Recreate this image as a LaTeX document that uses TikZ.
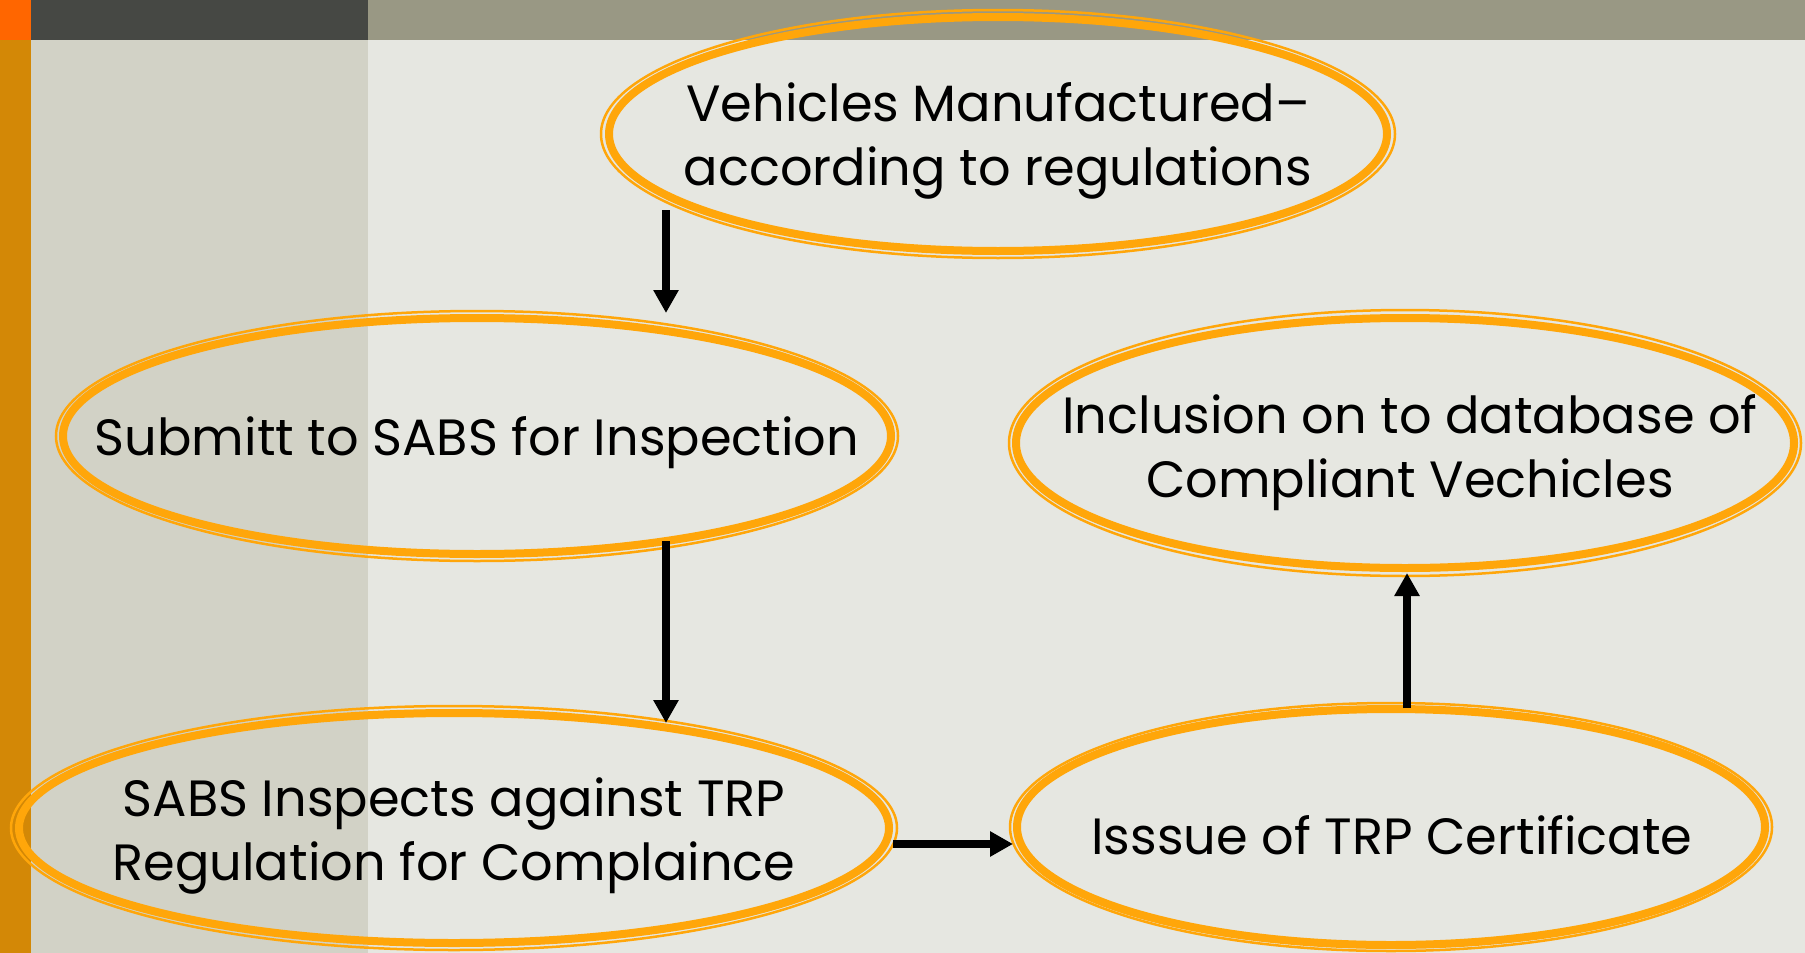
\documentclass[tikz,border=0pt]{standalone}
\usepackage{fontspec}
\setmainfont{Poppins}
\usetikzlibrary{shapes.geometric,arrows.meta,calc}
\definecolor{bgmain}{HTML}{E6E7E1}
\definecolor{panel}{HTML}{D2D2C6}
\definecolor{stripe}{HTML}{D38806}
\definecolor{corner}{HTML}{FF6600}
\definecolor{darkbar}{HTML}{464844}
\definecolor{olivebar}{HTML}{999884}
\definecolor{ringorange}{HTML}{FFA60A}
\begin{document}
\begin{tikzpicture}[x=1pt,y=-1pt,
  ring/.style={draw=ringorange, line width=8pt, ellipse, inner sep=0pt},
  halo/.style={draw=ringorange, line width=2.5pt},
  lbl/.style={align=center, font=\fontsize{51}{64}\selectfont, text=black, inner sep=0pt},
  arr/.style={line width=8.5pt, -{Triangle[length=23pt,width=24pt]}}
]
\useasboundingbox (0,0) rectangle (1805,953);
% slide background
\fill[bgmain] (0,0) rectangle (1805,953);
\fill[panel] (31,40) rectangle (368,953);
\fill[stripe] (0,40) rectangle (31,953);
\fill[corner] (0,0) rectangle (31,40);
\fill[darkbar] (31,0) rectangle (368,40);
\fill[olivebar] (368,0) rectangle (1805,40);

% process ellipses
\node[ring, minimum width=778pt, minimum height=234pt] (e1) at (998,134) {};
\node[ring, minimum width=828pt, minimum height=236pt] (e2) at (477,436) {};
\node[ring, minimum width=870pt, minimum height=230pt] (e3) at (454,828) {};
\node[ring, minimum width=748pt, minimum height=236pt] (e4) at (1391,827) {};
\node[ring, minimum width=778pt, minimum height=250pt] (e5) at (1405,443) {};

\draw[halo] (e1.center) ellipse [x radius=397pt, y radius=124pt];
\draw[halo] (e2.center) ellipse [x radius=421pt, y radius=125pt];
\draw[halo] (e3.center) ellipse [x radius=443pt, y radius=122pt];
\draw[halo] (e4.center) ellipse [x radius=381pt, y radius=124pt];
\draw[halo] (e5.center) ellipse [x radius=396pt, y radius=133pt];

% labels
\node[lbl] (t1) at (998,141) {Vehicles Manufactured–\\according to regulations};
\node[lbl] (t2) at (477,443) {Submitt to SABS for Inspection};
\node[lbl] (t3) at (454,836) {SABS Inspects against TRP\\Regulation for Complaince};
\node[lbl] (t4) at (1392,835) {Isssue of TRP Certificate};
\node[lbl] (t5) at (1410,453) {Inclusion on to database of\\Compliant Vechicles};

% connector end points
\coordinate (a1s) at ($(e1.center)+(-332,76)$);
\coordinate (a1e) at ($(e2.center)+(189,-123)$);
\coordinate (a2s) at ($(e2.center)+(189,105)$);
\coordinate (a2e) at ($(e3.center)+(212,-105)$);
\coordinate (a3s) at ($(e3.center)+(439,16)$);
\coordinate (a3e) at ($(e4.center)+(-378,17)$);
\coordinate (a4s) at ($(e4.center)+(16,-119)$);
\coordinate (a4e) at ($(e5.center)+(2,130)$);

\draw[arr] (a1s) -- (a1e);
\draw[arr] (a2s) -- (a2e);
\draw[arr] (a3s) -- (a3e);
\draw[arr] (a4s) -- (a4e);
\end{tikzpicture}
\end{document}
